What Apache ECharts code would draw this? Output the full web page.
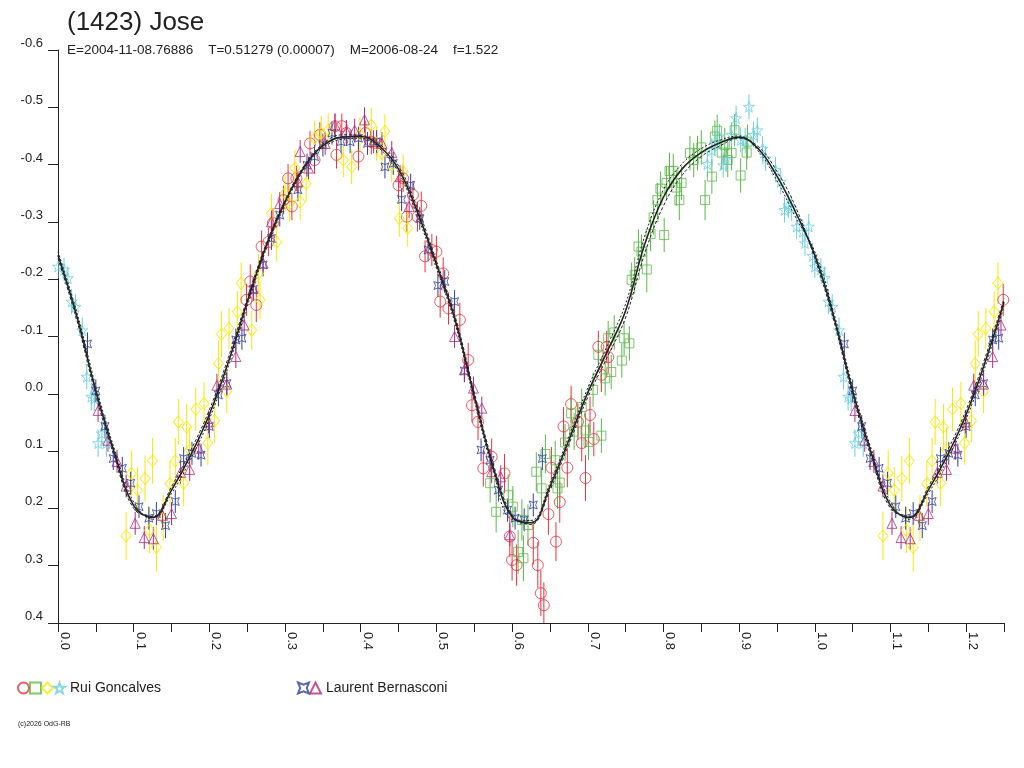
<!DOCTYPE html>
<html>
<head>
<meta charset="utf-8">
<title>(1423) Jose</title>
<script src="https://cdn.jsdelivr.net/npm/echarts@6/dist/echarts.min.js"></script>
<style>
  html, body { margin: 0; padding: 0; background: #fff; }
  #main { width: 1024px; height: 768px; }
</style>
</head>
<body>
<div id="main"></div>
<script>
// points are [phase, magnitude, error]
var ruiCircles = [
    [0.249,-0.164,0.028],[0.254,-0.196,0.030],[0.262,-0.155,0.030],[0.269,-0.257,0.028],[0.278,-0.265,0.025],
    [0.284,-0.298,0.026],[0.298,-0.338,0.025],[0.304,-0.376,0.025],[0.309,-0.327,0.024],[0.315,-0.376,0.022],
    [0.333,-0.437,0.022],[0.339,-0.408,0.024],[0.346,-0.452,0.022],[0.366,-0.467,0.022],[0.375,-0.467,0.022],
    [0.368,-0.417,0.024],[0.381,-0.455,0.022],[0.397,-0.414,0.024],[0.406,-0.455,0.022],[0.414,-0.440,0.022],
    [0.421,-0.437,0.022],[0.450,-0.364,0.024],[0.456,-0.376,0.024],[0.461,-0.309,0.026],[0.469,-0.347,0.024],
    [0.475,-0.309,0.026],[0.480,-0.328,0.025],[0.485,-0.240,0.028],[0.494,-0.251,0.028],[0.500,-0.248,0.028],
    [0.509,-0.210,0.028],[0.505,-0.161,0.028],[0.516,-0.149,0.028],[0.531,-0.129,0.030],[0.542,-0.059,0.030],
    [0.547,0.020,0.030],[0.555,0.049,0.032],[0.562,0.130,0.032],[0.573,0.110,0.032],[0.590,0.139,0.034],
    [0.597,0.249,0.036],[0.600,0.290,0.036],[0.606,0.299,0.036],[0.628,0.260,0.038],[0.634,0.299,0.040],
    [0.638,0.348,0.040],[0.642,0.369,0.040],[0.648,0.210,0.036],[0.658,0.258,0.034],[0.652,0.129,0.036],
    [0.663,0.189,0.036],[0.673,0.129,0.034],[0.668,0.057,0.034],[0.678,0.018,0.032],[0.687,0.049,0.032],
    [0.692,0.086,0.032],[0.703,0.037,0.032],[0.697,0.147,0.040],[0.708,0.079,0.030],[0.718,-0.033,0.030],
    [0.714,-0.082,0.028],[0.725,-0.082,0.028],[0.727,-0.064,0.028]
];

var ruiSquares = [
    [0.571,0.156,0.034],[0.579,0.206,0.036],[0.595,0.177,0.036],[0.601,0.197,0.036],[0.608,0.276,0.038],
    [0.615,0.287,0.040],[0.613,0.220,0.036],[0.621,0.229,0.036],[0.632,0.136,0.034],[0.639,0.165,0.036],
    [0.644,0.105,0.034],[0.657,0.116,0.034],[0.663,0.155,0.034],[0.660,0.165,0.036],[0.670,0.085,0.032],
    [0.678,0.034,0.032],[0.682,0.066,0.032],[0.692,0.023,0.032],[0.697,0.064,0.030],[0.701,0.084,0.032],
    [0.707,-0.007,0.030],[0.718,0.073,0.030],[0.714,-0.068,0.030],[0.723,-0.027,0.030],[0.731,-0.038,0.030],
    [0.727,-0.097,0.030],[0.735,-0.107,0.030],[0.745,-0.058,0.030],[0.748,-0.097,0.030],[0.755,-0.088,0.030],
    [0.758,-0.199,0.030],[0.762,-0.207,0.032],[0.767,-0.257,0.030],[0.771,-0.248,0.030],[0.778,-0.217,0.040],
    [0.783,-0.279,0.030],[0.787,-0.308,0.030],[0.792,-0.338,0.030],[0.796,-0.358,0.030],[0.801,-0.277,0.030],
    [0.804,-0.368,0.030],[0.808,-0.389,0.032],[0.813,-0.389,0.030],[0.817,-0.360,0.032],[0.821,-0.338,0.035],
    [0.824,-0.368,0.030],[0.835,-0.420,0.030],[0.840,-0.408,0.030],[0.845,-0.420,0.030],[0.850,-0.430,0.030],
    [0.855,-0.338,0.035],[0.864,-0.379,0.030],[0.868,-0.449,0.028],[0.871,-0.459,0.028],[0.877,-0.421,0.030],
    [0.881,-0.434,0.030],[0.885,-0.408,0.030],[0.890,-0.420,0.030],[0.894,-0.460,0.028],[0.902,-0.381,0.030],
    [0.910,-0.421,0.030],[0.911,-0.440,0.030]
];

var ruiDiamonds = [
    [0.090,0.248,0.042],[0.097,0.139,0.040],[0.105,0.168,0.040],[0.115,0.148,0.040],[0.125,0.117,0.040],
    [0.121,0.238,0.040],[0.130,0.268,0.042],[0.139,0.217,0.040],[0.148,0.157,0.040],[0.155,0.117,0.040],
    [0.159,0.049,0.040],[0.166,0.156,0.040],[0.170,0.058,0.040],[0.174,0.098,0.040],[0.182,0.027,0.038],
    [0.193,0.017,0.038],[0.198,0.086,0.038],[0.207,0.047,0.038],[0.212,-0.053,0.040],[0.216,-0.104,0.040],
    [0.223,-0.004,0.038],[0.226,-0.114,0.036],[0.237,-0.143,0.036],[0.242,-0.193,0.036],[0.256,-0.111,0.034],
    [0.265,-0.210,0.034],[0.267,-0.164,0.034],[0.282,-0.315,0.034],[0.289,-0.265,0.034],[0.300,-0.350,0.032],
    [0.306,-0.332,0.032],[0.313,-0.394,0.032],[0.320,-0.335,0.032],[0.328,-0.367,0.032],[0.339,-0.446,0.030],
    [0.348,-0.455,0.030],[0.357,-0.460,0.030],[0.377,-0.408,0.030],[0.388,-0.396,0.030],[0.399,-0.452,0.030],
    [0.414,-0.469,0.030],[0.421,-0.437,0.030],[0.432,-0.458,0.030],[0.428,-0.420,0.030],[0.441,-0.399,0.030],
    [0.456,-0.388,0.030],[0.451,-0.306,0.032],[0.462,-0.289,0.032]
];

var ruiStars = [
    [0.000,-0.222,0.020],[0.008,-0.217,0.020],[0.013,-0.202,0.020],[0.018,-0.161,0.022],[0.023,-0.152,0.022],
    [0.032,-0.111,0.022],[0.038,-0.030,0.022],[0.044,0.005,0.024],[0.048,0.008,0.022],[0.058,0.069,0.022],
    [0.053,0.086,0.024],[0.064,0.086,0.024],[0.858,-0.401,0.022],[0.864,-0.425,0.022],[0.868,-0.437,0.022],
    [0.874,-0.449,0.022],[0.879,-0.399,0.022],[0.883,-0.409,0.022],[0.890,-0.452,0.022],[0.896,-0.481,0.022],
    [0.902,-0.443,0.022],[0.908,-0.442,0.022],[0.913,-0.501,0.022],[0.919,-0.452,0.022],[0.924,-0.460,0.022],
    [0.931,-0.428,0.022],[0.935,-0.411,0.022],[0.948,-0.391,0.022],[0.955,-0.370,0.022],[0.960,-0.321,0.022],
    [0.965,-0.329,0.022],[0.969,-0.324,0.022],[0.976,-0.292,0.022],[0.984,-0.283,0.022],[0.987,-0.263,0.022],
    [0.992,-0.292,0.022],[0.997,-0.241,0.022]
];

var laurentCrosses = [
    [0.039,-0.087,0.020],[0.050,-0.005,0.020],[0.062,0.057,0.020],[0.073,0.113,0.020],[0.085,0.130,0.020],
    [0.096,0.156,0.020],[0.107,0.197,0.020],[0.120,0.217,0.020],[0.130,0.209,0.020],[0.142,0.230,0.022],
    [0.155,0.188,0.020],[0.166,0.113,0.020],[0.177,0.104,0.020],[0.189,0.107,0.020],[0.200,0.057,0.020],
    [0.212,0.002,0.020],[0.223,-0.018,0.020],[0.235,-0.094,0.020],[0.243,-0.097,0.020],[0.258,-0.182,0.020],
    [0.271,-0.225,0.020],[0.282,-0.271,0.020],[0.293,-0.312,0.020],[0.317,-0.356,0.020],[0.329,-0.399,0.020],
    [0.339,-0.414,0.020],[0.350,-0.434,0.020],[0.362,-0.455,0.020],[0.374,-0.440,0.020],[0.386,-0.440,0.020],
    [0.397,-0.446,0.020],[0.409,-0.437,0.020],[0.421,-0.440,0.020],[0.432,-0.396,0.020],[0.443,-0.402,0.020],
    [0.454,-0.339,0.020],[0.466,-0.364,0.020],[0.478,-0.306,0.020],[0.489,-0.251,0.020],[0.502,-0.189,0.020],
    [0.511,-0.196,0.020],[0.524,-0.161,0.020],[0.537,-0.040,0.020],[0.559,0.098,0.020],[0.571,0.116,0.020],
    [0.582,0.168,0.020],[0.594,0.203,0.020],[0.604,0.217,0.020],[0.616,0.220,0.020],[0.628,0.194,0.020],
    [0.640,0.113,0.020]
];

var laurentTriangles = [
    [0.053,0.029,0.020],[0.066,0.081,0.020],[0.078,0.118,0.020],[0.090,0.161,0.020],[0.102,0.226,0.020],
    [0.114,0.251,0.020],[0.126,0.253,0.020],[0.138,0.212,0.020],[0.150,0.209,0.020],[0.162,0.137,0.020],
    [0.174,0.132,0.020],[0.186,0.095,0.020],[0.199,0.049,0.020],[0.210,-0.015,0.020],[0.223,-0.017,0.020],
    [0.235,-0.065,0.020],[0.246,-0.120,0.020],[0.258,-0.184,0.020],[0.271,-0.228,0.020],[0.282,-0.300,0.020],
    [0.293,-0.332,0.020],[0.317,-0.370,0.020],[0.320,-0.423,0.020],[0.331,-0.394,0.020],[0.353,-0.437,0.020],
    [0.366,-0.469,0.020],[0.381,-0.458,0.020],[0.392,-0.460,0.020],[0.405,-0.478,0.022],[0.417,-0.440,0.020],
    [0.428,-0.437,0.020],[0.441,-0.421,0.020],[0.452,-0.379,0.020],[0.464,-0.327,0.020],[0.524,-0.100,0.020],
    [0.537,-0.042,0.020],[0.549,-0.010,0.020],[0.560,0.025,0.020],[0.573,0.136,0.020],[0.585,0.145,0.020],
    [0.597,0.246,0.020]
];

// fitted light curve, three solutions
var fitPhase = [0.000,0.025,0.050,0.075,0.100,0.125,0.150,0.175,0.200,0.225,0.250,0.275,0.300,0.325,
    0.350,0.375,0.400,0.425,0.450,0.475,0.500,0.525,0.550,0.575,0.600,0.625,0.650,0.675,0.700,0.725,
    0.750,0.775,0.800,0.825,0.850,0.875,0.900,0.925,0.950,0.975,1.000];
var fitMag = [-0.242,-0.135,-0.005,0.105,0.195,0.216,0.168,0.108,0.036,-0.055,-0.160,-0.258,-0.335,-0.395,
    -0.433,-0.448,-0.449,-0.432,-0.392,-0.317,-0.226,-0.128,0.004,0.128,0.215,0.225,0.162,0.081,-0.002,-0.072,
    -0.145,-0.260,-0.343,-0.393,-0.421,-0.438,-0.448,-0.428,-0.380,-0.316,-0.242];
var fitMagA = [-0.236,-0.128,0.003,0.112,0.200,0.214,0.162,0.100,0.028,-0.063,-0.166,-0.262,-0.338,-0.398,
    -0.436,-0.452,-0.451,-0.436,-0.398,-0.324,-0.232,-0.134,-0.003,0.122,0.211,0.228,0.168,0.088,0.006,-0.062,
    -0.133,-0.244,-0.328,-0.382,-0.414,-0.433,-0.446,-0.432,-0.388,-0.325,-0.236];
var fitMagB = [-0.248,-0.142,-0.013,0.098,0.189,0.219,0.174,0.115,0.044,-0.047,-0.153,-0.252,-0.330,-0.391,
    -0.429,-0.444,-0.446,-0.428,-0.386,-0.310,-0.219,-0.121,0.011,0.134,0.219,0.221,0.156,0.074,-0.010,-0.082,
    -0.157,-0.274,-0.356,-0.402,-0.428,-0.443,-0.450,-0.424,-0.372,-0.307,-0.248];

var xTicks = [0, 1.25];      // phase range
var yTicks = [-0.6, 0.4];    // magnitude range

var FONT = 'Liberation Sans';
var INK = '#222';

// the plot repeats phases 0 - 0.25 after 1.0
function wrap(points) {
    var extra = points.filter(function (p) { return p[0] < 0.25; }).map(function (p) {
        return [p[0] + 1, p[1], p[2]];
    });
    return points.concat(extra);
}

function fitLine(mags) {
    var pts = fitPhase.map(function (ph, i) { return [ph, mags[i]]; });
    var extra = [];
    fitPhase.forEach(function (ph, i) {
        if (ph > 0 && ph <= 0.25) extra.push([ph + 1, mags[i]]);
    });
    return pts.concat(extra);
}

var STAR5 = 'path://M0,-10L2.35,-3.24L9.51,-3.09L3.8,1.24L5.88,8.09L0,4L-5.88,8.09L-3.8,1.24L-9.51,-3.09L-2.35,-3.24Z';
var STAR4 = 'path://M-10,-10L0,-6L10,-10L6,0L10,10L0,6L-10,10L-6,0Z';

var sets = [
    { name: 'rg1', data: ruiCircles, color: '#f0303a', symbol: 'circle', size: 11 },
    { name: 'rg2', data: ruiSquares, color: '#5cb84a', symbol: 'rect', size: 9 },
    { name: 'rg3', data: ruiDiamonds, color: '#f8e800', symbol: 'diamond', size: [10, 12] },
    { name: 'Rui Goncalves', data: ruiStars, color: '#6ccfe0', symbol: STAR5, size: 11 },
    { name: 'lb1', data: laurentCrosses, color: '#3040a0', symbol: STAR4, size: 8 },
    { name: 'Laurent Bernasconi', data: laurentTriangles, color: '#b02a80', symbol: 'triangle', size: 10 }
];

var series = [];

sets.forEach(function (s) {
    var pts = wrap(s.data);
    series.push({
        type: 'custom',
        name: s.name + ' err',
        data: pts,
        clip: true,
        z: 2,
        silent: true,
        encode: { x: 0, y: 1 },
        renderItem: function (params, api) {
            var x = api.value(0), y = api.value(1), e = api.value(2);
            var a = api.coord([x, y - e]);
            var b = api.coord([x, y + e]);
            return {
                type: 'line',
                shape: { x1: a[0], y1: a[1], x2: b[0], y2: b[1] },
                style: { stroke: s.color, lineWidth: 1 }
            };
        }
    });
    series.push({
        type: 'scatter',
        name: s.name,
        data: pts,
        symbol: s.symbol,
        symbolSize: s.size,
        z: 3,
        itemStyle: { color: 'rgba(255,255,255,0)', borderColor: s.color, borderWidth: 1 }
    });
});

series.push({
    type: 'line', name: 'fitA', data: fitLine(fitMagA), smooth: 0.4, showSymbol: false, z: 4,
    lineStyle: { color: INK, width: 1, type: [3, 2] }
});
series.push({
    type: 'line', name: 'fitB', data: fitLine(fitMagB), smooth: 0.4, showSymbol: false, z: 4,
    lineStyle: { color: INK, width: 1, type: [2, 2] }
});
series.push({
    type: 'line', name: 'fit', data: fitLine(fitMag), smooth: 0.4, showSymbol: false, z: 5,
    lineStyle: { color: INK, width: 1.6 }
});

var legendText = { fontFamily: FONT, fontSize: 14, color: INK };

option = {
    backgroundColor: '#fff',
    animation: false,
    textStyle: { fontFamily: FONT },
    title: [{
        text: '(1423) Jose',
        left: 62,
        top: 5,
        textStyle: { fontFamily: FONT, fontSize: 26, fontWeight: 'normal', color: INK }
    }, {
        text: 'E=2004-11-08.76886    T=0.51279 (0.00007)    M=2006-08-24    f=1.522',
        left: 62,
        top: 38,
        textStyle: { fontFamily: FONT, fontSize: 13.5, fontWeight: 'normal', color: INK }
    }],
    legend: [{
        data: ['rg1', 'rg2', 'rg3', 'Rui Goncalves'],
        left: 12,
        top: 676,
        itemGap: -1,
        itemWidth: 11,
        itemHeight: 11,
        selectedMode: false,
        formatter: function (name) { return name === 'Rui Goncalves' ? name : ''; },
        textStyle: legendText
    }, {
        data: ['lb1', 'Laurent Bernasconi'],
        left: 292,
        top: 676,
        itemGap: -1,
        itemWidth: 11,
        itemHeight: 11,
        selectedMode: false,
        formatter: function (name) { return name === 'Laurent Bernasconi' ? name : ''; },
        textStyle: legendText
    }],
    grid: {
        left: 58,
        right: 20,
        top: 50,
        bottom: 145
    },
    xAxis: {
        type: 'value',
        min: xTicks[0],
        max: xTicks[1],
        interval: 0.05,
        axisLine: { show: true, onZero: false, lineStyle: { color: INK, width: 1 } },
        axisTick: { show: true, length: 9, lineStyle: { color: INK } },
        splitLine: { show: false },
        axisLabel: {
            rotate: -90,
            margin: 9,
            align: 'left',
            verticalAlign: 'bottom',
            fontFamily: FONT,
            fontSize: 13,
            color: INK,
            showMaxLabel: true,
            formatter: function (v) {
                var k = Math.round(v * 100);
                return k % 10 === 0 ? (k / 100).toFixed(1) : '';
            }
        }
    },
    yAxis: {
        type: 'value',
        inverse: true,
        min: yTicks[0],
        max: yTicks[1],
        interval: 0.1,
        axisLine: { show: true, onZero: false, lineStyle: { color: INK, width: 1 } },
        axisTick: { show: true, length: 10, lineStyle: { color: INK } },
        splitLine: { show: false },
        axisLabel: {
            margin: 15,
            verticalAlign: 'bottom',
            fontFamily: FONT,
            fontSize: 13,
            color: INK,
            formatter: function (v) {
                if (Math.abs(v) < 1e-9) return '0.0';
                return v.toFixed(1);
            }
        }
    },
    graphic: [{
        type: 'text',
        left: 18,
        top: 721,
        style: { text: '(c)2026 OdG-RB', font: '7px ' + FONT, fill: INK }
    }],
    series: series
};

var myChart = echarts.init(document.getElementById('main'));
myChart.setOption(option);
</script>
</body>
</html>
